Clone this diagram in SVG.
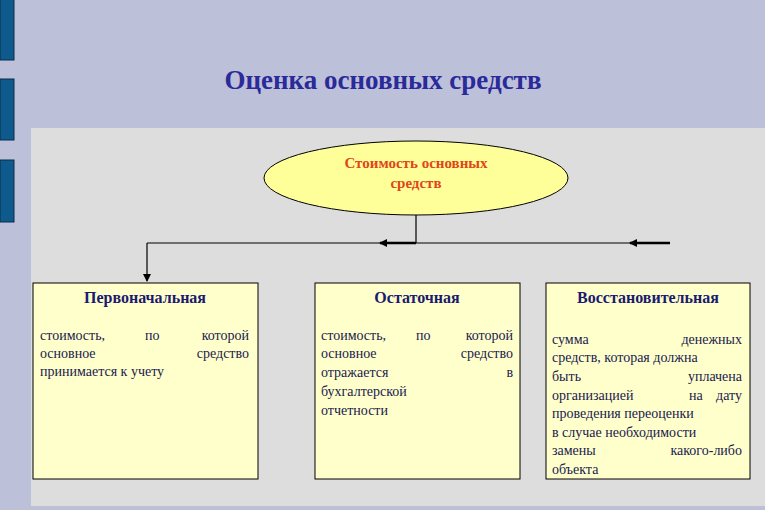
<svg xmlns="http://www.w3.org/2000/svg" width="765" height="510" viewBox="0 0 765 510">
<style>
.box{fill:#FFFFCC;stroke:#000;stroke-width:1}
.sf{font-family:"Liberation Serif","Times New Roman","DejaVu Serif",serif}
.hd{font-weight:bold;font-size:16px;fill:#1A1A6E;text-anchor:middle}
.tx{font-size:14px;fill:#1A1A4E}
.ln{stroke:#000;stroke-width:1.2;fill:none}
.bar{fill:#0F5A8C;stroke:#0A2C4A;stroke-width:1}
</style>
<defs><marker id="a" markerWidth="8" markerHeight="8" refX="7" refY="4" orient="auto" markerUnits="userSpaceOnUse"><path d="M0,0 L8,4 L0,8 z" fill="#000"/></marker></defs>
<rect width="765" height="510" fill="#BCC0D8"/>
<rect class="bar" x="0" y="-2" width="14" height="62"/>
<rect class="bar" x="0" y="79" width="14" height="61"/>
<rect class="bar" x="0" y="160" width="14" height="62"/>
<rect x="31" y="128" width="734" height="378" fill="#DDDDDD"/>
<text class="sf" x="383" y="89" font-weight="bold" font-size="27" fill="#2A2A9A" text-anchor="middle">Оценка основных средств</text>
<g id="connectors">
<path class="ln" d="M416,215 V243 M147,243 H670"/>
<path class="ln" d="M147,243 V281" marker-end="url(#a)"/>
<path d="M416,243 H380" stroke="#000" stroke-width="2.5" marker-end="url(#a)"/>
<path d="M670,243 H630" stroke="#000" stroke-width="2.5" marker-end="url(#a)"/>
</g>
<g id="root">
<ellipse cx="416" cy="178" rx="152" ry="37" fill="#FFFF99" stroke="#000"/>
<text class="sf" x="416" y="168" font-weight="bold" font-size="15" fill="#E0461A" text-anchor="middle">Стоимость основных</text>
<text class="sf" x="416" y="188" font-weight="bold" font-size="15" fill="#E0461A" text-anchor="middle">средств</text>
</g>
<g id="n1">
<rect class="box" x="33" y="283" width="225" height="196"/>
<text class="sf hd" x="145" y="303">Первоначальная</text>
<text class="sf tx" y="340"><tspan x="40">стоимость,</tspan><tspan x="145">по</tspan><tspan x="249" text-anchor="end">которой</tspan></text>
<text class="sf tx" y="358"><tspan x="40">основное</tspan><tspan x="249" text-anchor="end">средство</tspan></text>
<text class="sf tx" x="40" y="376">принимается к учету</text>
</g>
<g id="n2">
<rect class="box" x="315" y="283" width="205" height="196"/>
<text class="sf hd" x="417" y="303">Остаточная</text>
<text class="sf tx" y="340"><tspan x="321">стоимость,</tspan><tspan x="416">по</tspan><tspan x="513" text-anchor="end">которой</tspan></text>
<text class="sf tx" y="358"><tspan x="321">основное</tspan><tspan x="513" text-anchor="end">средство</tspan></text>
<text class="sf tx" y="377"><tspan x="321">отражается</tspan><tspan x="513" text-anchor="end">в</tspan></text>
<text class="sf tx" x="321" y="396">бухгалтерской</text>
<text class="sf tx" x="321" y="415">отчетности</text>
</g>
<g id="n3">
<rect class="box" x="546" y="283" width="204" height="196"/>
<text class="sf hd" x="648" y="303">Восстановительная</text>
<text class="sf tx" y="344"><tspan x="552">сумма</tspan><tspan x="742" text-anchor="end">денежных</tspan></text>
<text class="sf tx" x="552" y="362">средств, которая должна</text>
<text class="sf tx" y="381"><tspan x="552">быть</tspan><tspan x="742" text-anchor="end">уплачена</tspan></text>
<text class="sf tx" y="400"><tspan x="552">организацией</tspan><tspan x="689">на</tspan><tspan x="742" text-anchor="end">дату</tspan></text>
<text class="sf tx" x="552" y="418">проведения переоценки</text>
<text class="sf tx" x="552" y="437">в случае необходимости</text>
<text class="sf tx" y="455"><tspan x="552">замены</tspan><tspan x="742" text-anchor="end">какого-либо</tspan></text>
<text class="sf tx" x="552" y="474">объекта</text>
</g>
</svg>
